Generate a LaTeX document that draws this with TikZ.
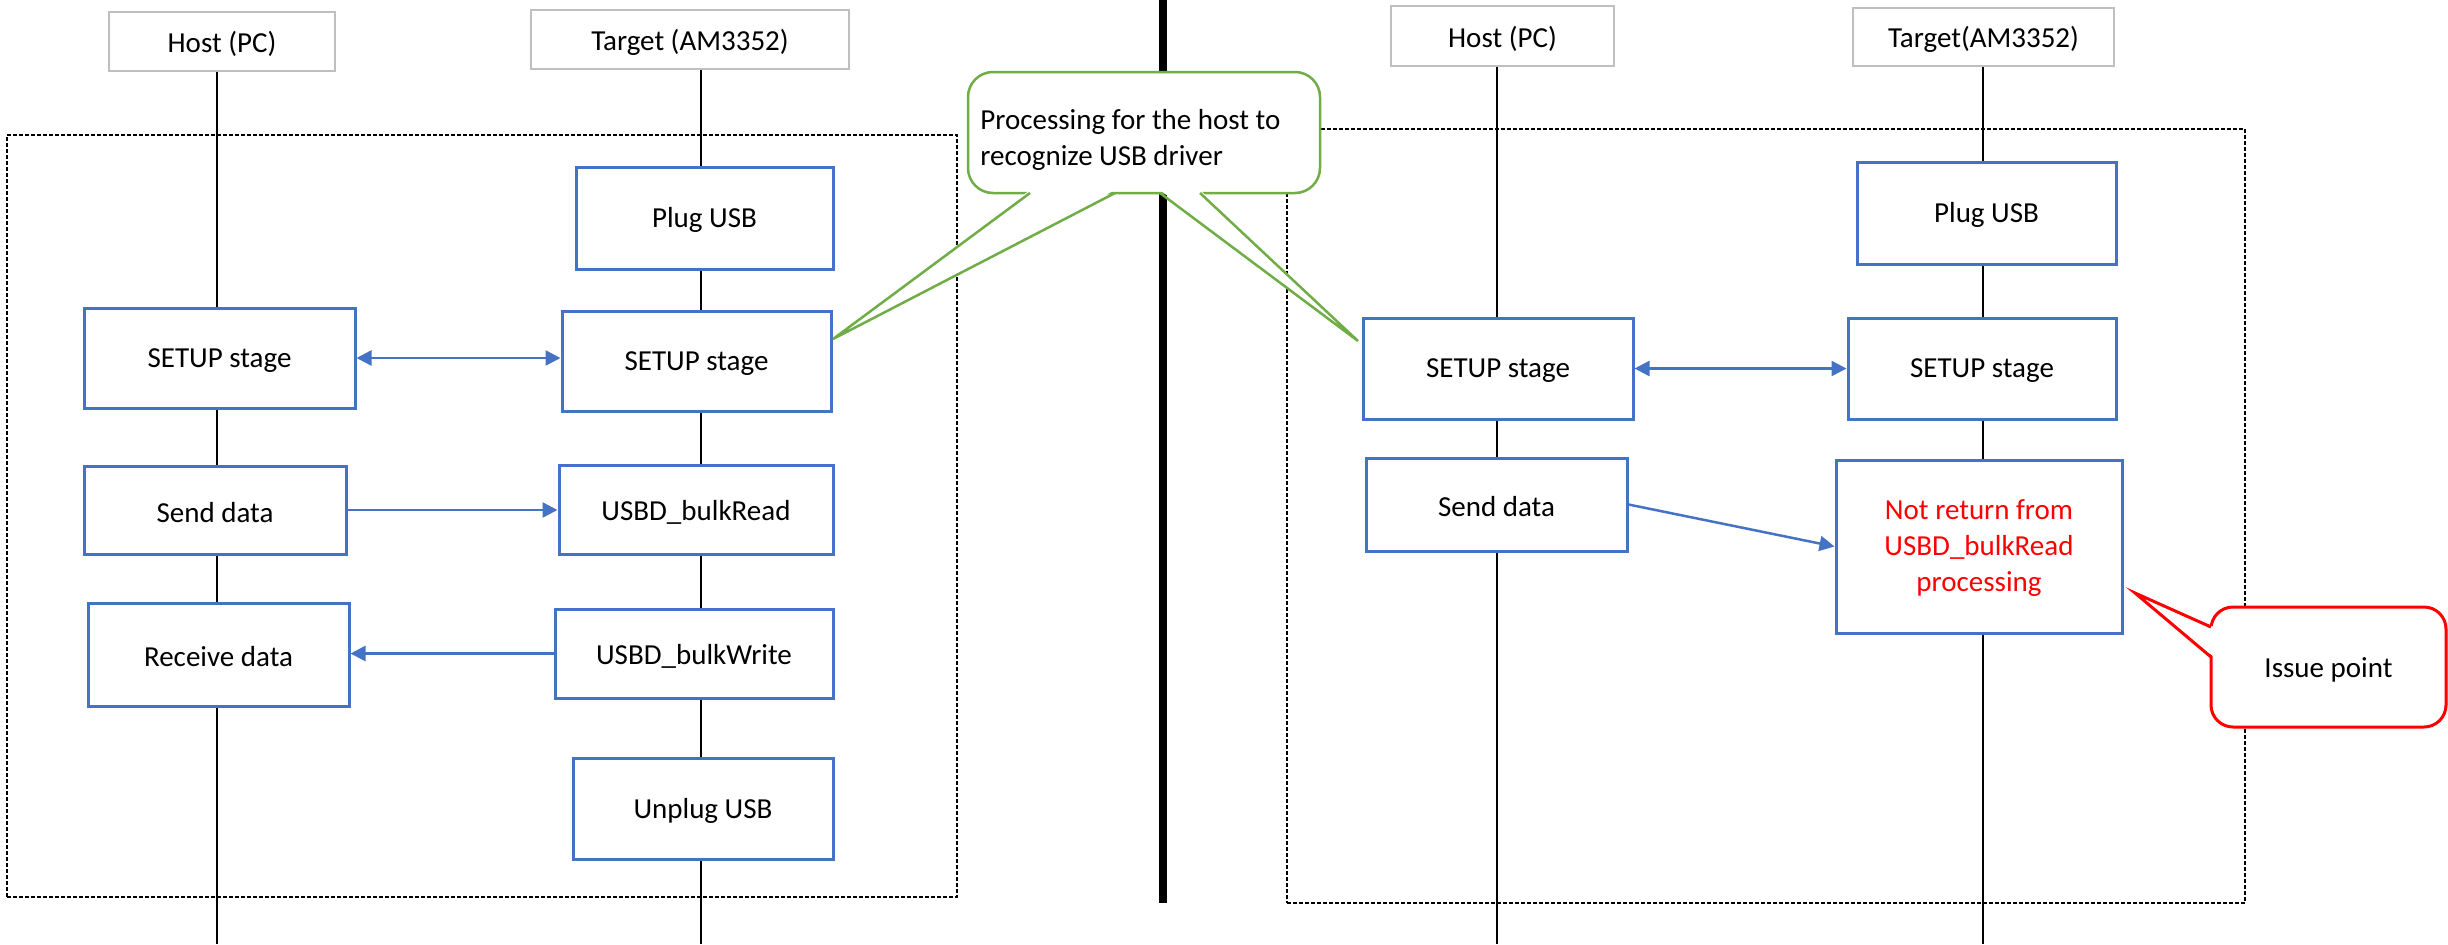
\documentclass[tikz,border=0pt]{standalone}
\usepackage{fontspec}
\setmainfont{Carlito}
\usetikzlibrary{arrows.meta,fit}
\definecolor{cblue}{HTML}{4472C4}
\definecolor{cgreen}{HTML}{70AD47}
\definecolor{cred}{HTML}{FF0000}
\definecolor{cgray}{HTML}{BFBFBF}
\begin{document}
\begin{tikzpicture}[x=0.5pt,y=-0.5pt,
  font=\fontsize{14.5}{18}\selectfont,
  stepbox/.style={draw=cblue,line width=1.5pt,fill=white,inner sep=0pt},
  headbox/.style={draw=cgray,line width=1pt,fill=white,inner sep=0pt},
  txt/.style={label={[align=center,inner sep=0pt,yshift=-1.2pt]center:#1}},
  redtxt/.style={label={[align=center,inner sep=0pt,yshift=-0.6pt,text=cred]center:#1}},
  life/.style={line width=1pt},
  frame/.style={draw,line width=0.75pt,dash pattern=on 2pt off 1pt,inner sep=0pt},
  msg/.style={draw=cblue,line width=1.25pt,-{Triangle[length=7.5pt,width=7.5pt]}},
  msgboth/.style={draw=cblue,line width=1.25pt,{Triangle[length=7.5pt,width=7.5pt]}-{Triangle[length=7.5pt,width=7.5pt]}},
]
\useasboundingbox (0,0) rectangle (2448,944);

% dashed frames
\node[frame,fit={(7,135) (957,897)}] (f1) {};
\node[frame,fit={(1287,129) (2245,903)}] (f2) {};

% header boxes
\node[headbox,fit={(109,12) (335,71)},txt={Host (PC)}] (hh1) {};
\node[headbox,fit={(531,10) (849,69)},txt={Target (AM3352)}] (ht1) {};
\node[headbox,fit={(1391,6) (1614,66)},txt={Host (PC)}] (hh2) {};
\node[headbox,fit={(1853,8) (2114,66)},txt={Target(AM3352)}] (ht2) {};

% lifelines
\coordinate (l1) at (217,944);
\coordinate (l2) at (701,944);
\coordinate (l3) at (1497,944);
\coordinate (l4) at (1983,944);
\draw[life] (hh1.south -| l1) -- (l1);
\draw[life] (ht1.south -| l2) -- (l2);
\draw[life] (hh2.south -| l3) -- (l3);
\draw[life] (ht2.south -| l4) -- (l4);

% divider
\coordinate (dtop) at (1163,0);
\coordinate (dbot) at (1163,903);
\draw[line width=4pt] (dtop) -- (dbot);

% left steps
\node[stepbox,fit={(576,167) (833,269)},txt={Plug USB}] (pu1) {};
\node[stepbox,fit={(84,308) (355,408)},txt={SETUP stage}] (sh1) {};
\node[stepbox,fit={(562,311) (831,411)},txt={SETUP stage}] (st1) {};
\node[stepbox,fit={(84,466) (346,554)},txt={Send data}] (sd1) {};
\node[stepbox,fit={(559,465) (833,554)},txt={USBD\_bulkRead}] (br1) {};
\node[stepbox,fit={(88,603) (349,706)},txt={Receive data}] (rd1) {};
\node[stepbox,fit={(555,609) (833,698)},txt={USBD\_bulkWrite}] (bw1) {};
\node[stepbox,fit={(573,758) (833,859)},txt={Unplug USB}] (up1) {};

% right steps
\node[stepbox,fit={(1857,162) (2116,264)},txt={Plug USB}] (pu2) {};
\node[stepbox,fit={(1363,318) (1633,419)},txt={SETUP stage}] (sh2) {};
\node[stepbox,fit={(1848,318) (2116,419)},txt={SETUP stage}] (st2) {};
\node[stepbox,fit={(1366,458) (1627,551)},txt={Send data}] (sd2) {};
\node[stepbox,fit={(1836,460) (2122,633)},redtxt={Not return from\\USBD\_bulkRead\\processing}] (nr2) {};

% messages
\draw[msgboth] (sh1.east) -- (sh1.east -| st1.west);
\draw[msg] (sd1.east) -- (sd1.east -| br1.west);
\draw[msg] (bw1.west) -- (bw1.west -| rd1.east);
\draw[msgboth] (sh2.east) -- (sh2.east -| st2.west);
\draw[msg] (sd2.east) -- (nr2.west);

% green callout
\node[draw=cgreen,line width=1.25pt,fill=white,rounded corners=12.5pt,inner sep=0pt,fit={(968,72) (1320,193)}] (cg) {};
\node[anchor=north west,align=left,inner sep=0pt] (cgt) at (980,109) {Processing for the host to\\recognize USB driver};
\coordinate (ga1) at (1030,193);
\coordinate (ga2) at (1115,193);
\coordinate (gtipa) at (833,339);
\coordinate (gb1) at (1160,193);
\coordinate (gb2) at (1200,193);
\coordinate (gtipb) at (1358,341);
\fill[white] ([yshift=1.5pt]ga1) -- (gtipa) -- ([yshift=1.5pt]ga2) -- cycle;
\fill[white] ([yshift=1.5pt]gb1) -- (gtipb) -- ([yshift=1.5pt]gb2) -- cycle;
\draw[cgreen,line width=1.25pt,line join=miter] (ga1) -- (gtipa) -- (ga2);
\draw[cgreen,line width=1.25pt,line join=miter] (gb1) -- (gtipb) -- (gb2);

% red callout
\node[draw=cred,line width=1.5pt,fill=white,rounded corners=11pt,inner sep=0pt,fit={(2211,607) (2446,727)},txt={Issue point}] (cr) {};
\coordinate (ra1) at (2211,627);
\coordinate (ra2) at (2211,657);
\coordinate (rtip) at (2135,593);
\fill[white] ([xshift=1.5pt]ra1) -- (rtip) -- ([xshift=1.5pt]ra2) -- cycle;
\draw[cred,line width=1.5pt,line join=miter] (ra1) -- (rtip) -- (ra2);
\end{tikzpicture}
\end{document}
